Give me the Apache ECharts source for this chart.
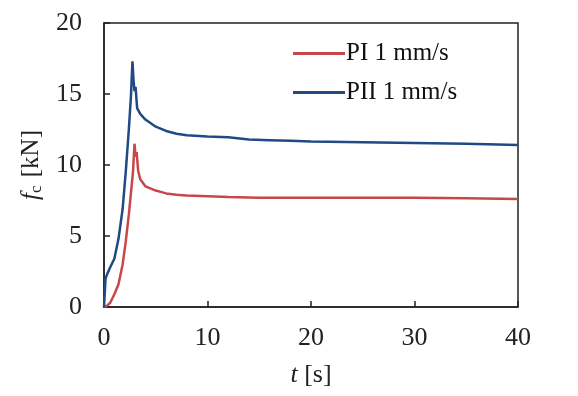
<!DOCTYPE html>
<html>
<head>
    <meta charset="utf-8">
    <title></title>
    <script src="https://cdn.jsdelivr.net/npm/echarts@6/dist/echarts.min.js"></script>
    <style>
        body{ margin: 0; background: #fff; }
        #chart{ width: 578px; height: 396px; }
    </style>
</head>
<body>
<div id="chart"></div>
<script>
    // PI 1 mm/s
    var tRed = [0, 0.3, 0.6, 1.0, 1.4, 1.8, 2.1, 2.4, 2.6, 2.8, 2.95, 3.05, 3.15, 3.3, 3.5, 4, 5, 6, 7, 8, 10, 12, 15, 20, 25, 30, 35, 40];
    var fRed = [0, 0.1, 0.3, 0.9, 1.6, 3.0, 4.6, 6.5, 8.0, 9.5, 11.5, 10.6, 10.9, 9.6, 9.0, 8.5, 8.2, 8.0, 7.9, 7.85, 7.8, 7.75, 7.7, 7.7, 7.7, 7.7, 7.65, 7.6];
    // PII 1 mm/s
    var tBlue = [0, 0.15, 0.3, 0.6, 1.0, 1.4, 1.8, 2.1, 2.4, 2.6, 2.75, 2.85, 2.95, 3.05, 3.2, 3.5, 4, 5, 6, 7, 8, 10, 12, 14, 16, 18, 20, 25, 30, 35, 40];
    var fBlue = [0, 2.0, 2.3, 2.8, 3.4, 4.8, 6.9, 9.5, 12.5, 14.8, 17.3, 16.0, 15.2, 15.5, 14.0, 13.6, 13.2, 12.7, 12.4, 12.2, 12.1, 12.0, 11.95, 11.8, 11.75, 11.7, 11.65, 11.6, 11.55, 11.5, 11.4];

    function pairs(xs, ys) {
        var out = [];
        for (var i = 0; i < xs.length; i++) out.push([xs[i], ys[i]]);
        return out;
    }

    var font = '"Liberation Serif", "DejaVu Serif", serif';
    var axisLine = { show: true, lineStyle: { color: '#222', width: 1.5 } };

    var option = {
        animation: false,
        textStyle: { fontFamily: font },
        grid: { left: 104, top: 23, right: 60, bottom: 89, containLabel: false,
                show: true, borderColor: '#222', borderWidth: 1.5 },
        legend: {
            orient: 'vertical',
            left: 288,
            top: 36,
            itemGap: 14,
            itemWidth: 52,
            itemHeight: 3,
            icon: 'rect',
            textStyle: { fontFamily: font, fontSize: 25, color: '#111', padding: [0, 0, 0, -4] },
            data: ['PI 1 mm/s', 'PII 1 mm/s']
        },
        xAxis: {
            type: 'value', min: 0, max: 40, interval: 10,
            axisLine: axisLine,
            axisTick: { inside: true, length: 6, lineStyle: { color: '#222', width: 1.5 } },
            axisLabel: { fontFamily: font, fontSize: 26, color: '#222', margin: 18 },
            splitLine: { show: false },
            name: '{i|t} [s]',
            nameLocation: 'middle',
            nameGap: 55,
            nameTextStyle: {
                fontFamily: font, fontSize: 26, color: '#222',
                rich: { i: { fontFamily: font, fontStyle: 'italic', fontSize: 26, color: '#222' } }
            }
        },
        yAxis: {
            type: 'value', min: 0, max: 20, interval: 5,
            axisLine: axisLine,
            axisTick: { inside: true, length: 6, lineStyle: { color: '#222', width: 1.5 } },
            axisLabel: { fontFamily: font, fontSize: 26, color: '#222', margin: 22 },
            splitLine: { show: false },
            name: '{i|f}{s|c} [kN]',
            nameLocation: 'middle',
            nameGap: 55,
            nameTextStyle: {
                fontFamily: font, fontSize: 25, color: '#222',
                rich: {
                    i: { fontFamily: font, fontStyle: 'italic', fontSize: 25, color: '#222' },
                    s: { fontFamily: font, fontSize: 17, color: '#222', verticalAlign: 'bottom', padding: [10, 2, 0, 0] }
                }
            }
        },
        series: [
            {
                name: 'PI 1 mm/s', type: 'line', showSymbol: false,
                data: pairs(tRed, fRed),
                itemStyle: { color: '#c8474a' },
                lineStyle: { color: '#c8474a', width: 2.5 }
            },
            {
                name: 'PII 1 mm/s', type: 'line', showSymbol: false,
                data: pairs(tBlue, fBlue),
                itemStyle: { color: '#1f4a85' },
                lineStyle: { color: '#1f4a85', width: 2.5 }
            }
        ]
    };

    var myChart = echarts.init(document.getElementById('chart'));
    myChart.setOption(option);
</script>
</body>
</html>
